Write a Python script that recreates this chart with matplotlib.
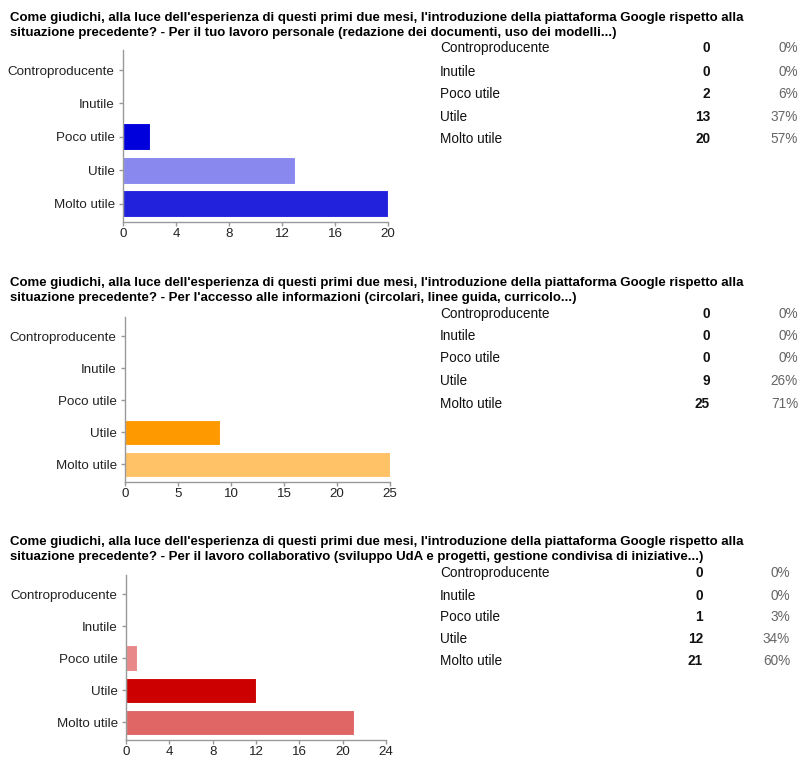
import matplotlib.pyplot as plt

plt.rcParams["font.family"] = ["Liberation Sans", "DejaVu Sans"]

W, H = 800, 761

categories = ["Controproducente", "Inutile", "Poco utile", "Utile", "Molto utile"]

titles = [
    "Come giudichi, alla luce dell'esperienza di questi primi due mesi, l'introduzione della piattaforma Google rispetto alla\n"
    "situazione precedente? - Per il tuo lavoro personale (redazione dei documenti, uso dei modelli...)",
    "Come giudichi, alla luce dell'esperienza di questi primi due mesi, l'introduzione della piattaforma Google rispetto alla\n"
    "situazione precedente? - Per l'accesso alle informazioni (circolari, linee guida, curricolo...)",
    "Come giudichi, alla luce dell'esperienza di questi primi due mesi, l'introduzione della piattaforma Google rispetto alla\n"
    "situazione precedente? - Per il lavoro collaborativo (sviluppo UdA e progetti, gestione condivisa di iniziative...)",
]

counts_personale = [0, 0, 2, 13, 20]
counts_informazioni = [0, 0, 0, 9, 25]
counts_collaborativo = [0, 0, 1, 12, 21]

pct_personale = ["0%", "0%", "6%", "37%", "57%"]
pct_informazioni = ["0%", "0%", "0%", "26%", "71%"]
pct_collaborativo = ["0%", "0%", "3%", "34%", "60%"]

colors_personale = ["#0000cc", "#3333dd", "#0000dd", "#8888ee", "#2222dd"]
colors_informazioni = ["#ff9900", "#ffb84d", "#ffad33", "#ff9900", "#ffc266"]
colors_collaborativo = ["#cc0000", "#dd4444", "#e88888", "#cc0000", "#e06666"]

xticks_list = [[0, 4, 8, 12, 16, 20], [0, 5, 10, 15, 20, 25], [0, 4, 8, 12, 16, 20, 24]]

# pixel layout for each panel: title center y (line 1), axes (left, right, top, bottom), table rows y, count x, pct x
panels = [
    dict(counts=counts_personale, pct=pct_personale, colors=colors_personale,
         title_y=18, ax=(123, 388, 50, 222), rows=(48, 72, 94, 117, 139), cx=710, px=798),
    dict(counts=counts_informazioni, pct=pct_informazioni, colors=colors_informazioni,
         title_y=283, ax=(125, 390, 317, 482), rows=(314, 336, 358, 381, 404), cx=710, px=798),
    dict(counts=counts_collaborativo, pct=pct_collaborativo, colors=colors_collaborativo,
         title_y=542, ax=(126, 386, 575, 740), rows=(573, 596, 617, 639, 661), cx=703, px=790),
]

fig = plt.figure(figsize=(W / 100, H / 100), dpi=100)

for i, p in enumerate(panels):
    line1, line2 = titles[i].split("\n")
    fig.text(10 / W, 1 - p["title_y"] / H, line1, fontsize=9.5, fontweight="bold",
             va="center", ha="left", color="#000000")
    fig.text(10 / W, 1 - (p["title_y"] + 15) / H, line2, fontsize=9.5, fontweight="bold",
             va="center", ha="left", color="#000000")

    l, r, t, b = p["ax"]
    ax = fig.add_axes([l / W, 1 - b / H, (r - l) / W, (b - t) / H])
    y = range(len(categories))
    ax.barh(y, p["counts"], height=0.8, color=p["colors"], edgecolor="white", linewidth=0.8)
    ax.set_ylim(4.55, -0.6)
    ax.set_xlim(0, xticks_list[i][-1])
    ax.set_xticks(xticks_list[i])
    ax.set_yticks(list(y))
    ax.set_yticklabels(categories)
    for s in ["top", "right"]:
        ax.spines[s].set_visible(False)
    for s in ["left", "bottom"]:
        ax.spines[s].set_color("#999999")
        ax.spines[s].set_linewidth(1)
    ax.tick_params(axis="both", colors="#999999", labelcolor="#222222", labelsize=9.6, width=1)
    ax.tick_params(axis="y", length=3, pad=3)
    ax.tick_params(axis="x", length=3, pad=1)
    ax.patch.set_alpha(0)

    for j, cat in enumerate(categories):
        yy = 1 - p["rows"][j] / H
        fig.text(440 / W, yy, cat, fontsize=9.8, va="center", ha="left", color="#111111")
        fig.text(p["cx"] / W, yy, str(p["counts"][j]), fontsize=9.8, fontweight="bold",
                 va="center", ha="right", color="#111111")
        fig.text(p["px"] / W, yy, p["pct"][j], fontsize=9.8, va="center", ha="right", color="#666666")

fig.savefig("out.png", dpi=100)
